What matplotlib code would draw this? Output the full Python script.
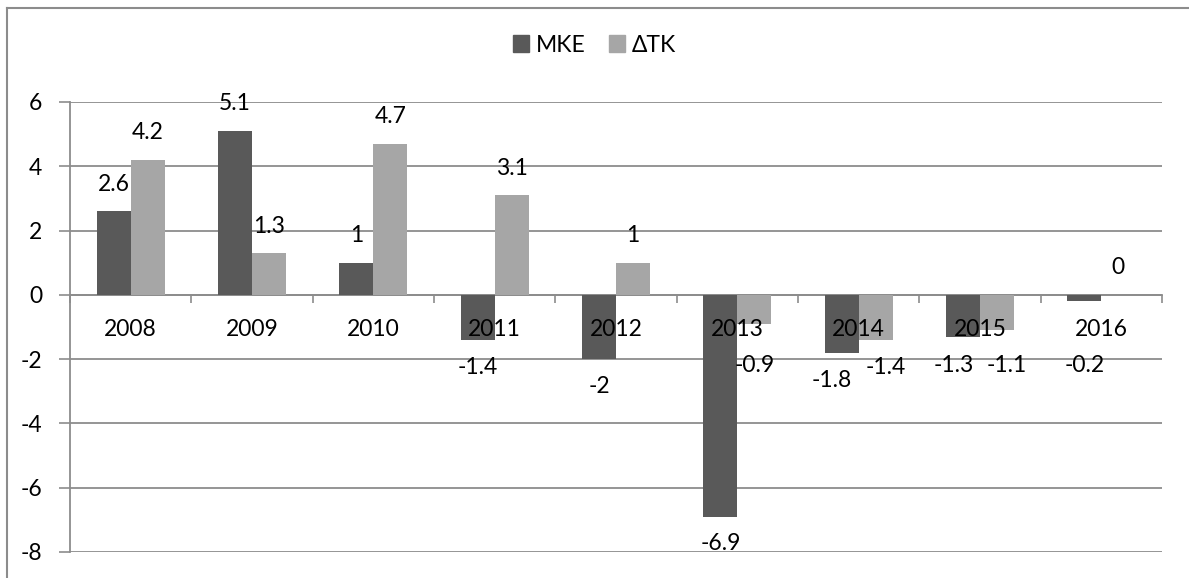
import matplotlib.pyplot as plt
from matplotlib.patches import Patch

plt.rcParams["font.family"] = ["Lato", "DejaVu Sans"]
plt.rcParams["axes.unicode_minus"] = False  # plain hyphen on the y ticks

# data
years = ["2008", "2009", "2010", "2011", "2012", "2013", "2014", "2015", "2016"]
mke = [2.6, 5.1, 1.0, -1.4, -2.0, -6.9, -1.8, -1.3, -0.2]
dtk = [4.2, 1.3, 4.7, 3.1, 1.0, -0.9, -1.4, -1.1, 0.0]
labels_mke = ["2.6", "5.1", "1", "-1.4", "-2", "-6.9", "-1.8", "-1.3", "-0.2"]
labels_dtk = ["4.2", "1.3", "4.7", "3.1", "1", "-0.9", "-1.4", "-1.1", "0"]

c_mke = "#595959"
c_dtk = "#a6a6a6"
c_grid = "#8c8c8c"
fs = 16.5

W, H = 1189, 578
fig = plt.figure(figsize=(W / 100, H / 100), dpi=100)
ax = fig.add_axes([70 / W, (H - 552) / H, (1162 - 70) / W, 450 / H])

bw = 0.28
x = [i + 0.5 for i in range(len(years))]
ax.bar([p - bw / 2 for p in x], mke, width=bw, color=c_mke, zorder=2)
ax.bar([p + bw / 2 for p in x], dtk, width=bw, color=c_dtk, zorder=2)

ax.set_xlim(0, len(years))
ax.set_ylim(-8, 6)
ax.set_yticks(range(-8, 7, 2))
ax.set_xticks(range(len(years) + 1))
ax.set_xticklabels([])
ax.tick_params(axis="x", direction="out", length=6, width=1.2, color=c_grid)
ax.tick_params(axis="y", direction="out", length=8, width=1.2, color=c_grid,
               labelsize=fs, pad=12)
ax.yaxis.grid(True, color=c_grid, linewidth=1.3)
ax.set_axisbelow(True)
for s in ["top", "right"]:
    ax.spines[s].set_visible(False)
ax.spines["left"].set_color(c_grid)
ax.spines["left"].set_linewidth(1.3)
# horizontal axis sits at zero
ax.spines["bottom"].set_position(("data", 0))
ax.spines["bottom"].set_color(c_grid)
ax.spines["bottom"].set_linewidth(1.3)
ax.spines["bottom"].set_zorder(1)

# category labels, drawn over the bars
for p, yr in zip(x, years):
    ax.text(p, -1.09, yr, ha="center", va="center", fontsize=fs, zorder=5)


# value labels: outside end, negatives kept below the category labels
def label_y(v):
    if v >= 0:
        return v + 0.84
    return min(v - 0.85, -2.2)


for p, a, b, ta, tb in zip(x, mke, dtk, labels_mke, labels_dtk):
    ya, yb = label_y(a), label_y(b)
    dx = 0
    if a < 0 and b < 0 and abs(ya - yb) < 0.5:
        dx = 7  # spread the two labels a little so they don't collide
    ax.annotate(ta, (p - bw / 2, ya), xytext=(-dx, 0), textcoords="offset points",
                ha="center", va="center", fontsize=fs, zorder=5)
    ax.annotate(tb, (p + bw / 2, yb), xytext=(dx, 0), textcoords="offset points",
                ha="center", va="center", fontsize=fs, zorder=5)

handles = [Patch(color=c_mke, label="MKE"), Patch(color=c_dtk, label="ΔTK")]
fig.legend(handles=handles, loc="center", bbox_to_anchor=(0.5, (H - 45) / H), ncol=2,
           frameon=False, fontsize=fs, handlelength=0.7, handleheight=0.7,
           handletextpad=0.3, columnspacing=1.0)

# outer chart border (only top and left fall inside the picture)
fig.add_artist(plt.Line2D([7 / W, 1], [(H - 8) / H, (H - 8) / H], color=c_grid, linewidth=1.5))
fig.add_artist(plt.Line2D([7 / W, 7 / W], [0, (H - 8) / H], color=c_grid, linewidth=1.5))

fig.savefig("out.png", dpi=100, facecolor="white")
